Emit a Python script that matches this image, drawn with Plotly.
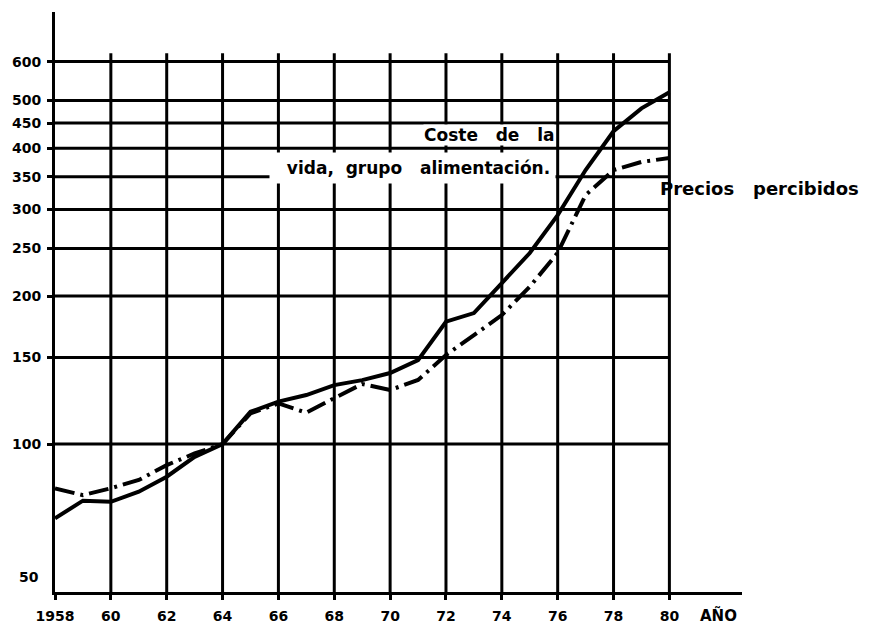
import numpy as np
import plotly.graph_objects as go

years = list(range(1958, 1981))
coste = [70.6, 76.7, 76.3, 80.0, 85.8, 94.2, 100, 116.3, 122, 125.8, 131.8, 134.9,
         139.5, 148.2, 177.4, 184.7, 212.6, 244.7, 292.3, 361, 433, 482, 520]
precios = [81.2, 78.7, 81.3, 84.5, 90.6, 95.7, 100, 115.5, 121, 115.8, 124, 132.5,
           128.8, 135, 151.7, 166.6, 183, 209, 245, 321, 361, 375, 382]

x_ticks = list(range(1958, 1981, 2))
x_tick_labels = ["1958", "60", "62", "64", "66", "68", "70", "72", "74", "76", "78", "80"]
y_ticks = [100, 150, 200, 250, 300, 350, 400, 450, 500, 600]
y_grid = [50] + y_ticks

FONT = "DejaVu Sans"
BLACK = "#000000"
NB = "\u00a0"

fig = go.Figure()
fig.add_trace(go.Scatter(x=years, y=coste, mode="lines",
                         line=dict(color=BLACK, width=4), name="Coste de la vida, grupo alimentación"))
fig.add_trace(go.Scatter(x=years, y=precios, mode="lines",
                         line=dict(color=BLACK, width=4, dash="20px,6px,3px,6px"), name="Precios percibidos"))

shapes = []
for v in y_grid[1:]:
    shapes.append(dict(type="line", xref="x", yref="y", x0=1957.82, x1=1980, y0=v, y1=v,
                       line=dict(color=BLACK, width=3), layer="below"))
for yr in x_ticks[1:]:
    shapes.append(dict(type="line", xref="x", yref="y", x0=yr, x1=yr, y0=50, y1=624,
                       line=dict(color=BLACK, width=3), layer="below"))

label_font = dict(family=FONT, size=17, color=BLACK, weight="bold")
annotations = [
    dict(text=f"Coste{NB*3}de{NB*3}la", x=1973.54, y=np.log10(425), xref="x", yref="y",
         xanchor="center", showarrow=False, font=label_font, bgcolor="white", borderpad=0),
    dict(text=f"{NB*2}vida,{NB*2}grupo{NB*3}alimentación.", x=1970.8, y=np.log10(364), xref="x", yref="y",
         xanchor="center", showarrow=False, font=label_font, bgcolor="white", borderpad=5),
    dict(text=f"Precios{NB*3}percibidos", x=(759 - 55) / 687, y=np.log10(331), xref="paper", yref="y",
         xanchor="center", showarrow=False, font=dict(family=FONT, size=18, color=BLACK, weight="bold")),
    dict(text="<b>AÑO</b>", x=1981.75, y=0, xref="x", yref="paper", yanchor="top", yshift=-12,
         xanchor="center", showarrow=False, font=dict(family=FONT, size=15, color=BLACK)),
    dict(text="<b>50</b>", x=0, y=np.log10(50), xref="paper", yref="y", xanchor="right",
         xshift=-14, yshift=15, showarrow=False, font=dict(family=FONT, size=14, color=BLACK)),
]

# page body has an 8px margin, so the figure is sized to fit the 870x625 window
fig.update_layout(
    width=862, height=617,
    margin=dict(l=47, r=128, t=4, b=33, autoexpand=False),
    paper_bgcolor="white", plot_bgcolor="white",
    showlegend=False,
    shapes=shapes,
    annotations=annotations,
    xaxis=dict(range=[1958, 1982.6], tickvals=x_ticks, ticktext=x_tick_labels, automargin=False,
               showgrid=False, zeroline=False, showline=True, linecolor=BLACK, linewidth=3,
               ticks="outside", ticklen=5, tickwidth=3, tickcolor=BLACK,
               tickfont=dict(family=FONT, size=14, color=BLACK, weight="bold"),
               ticklabelstandoff=4),
    yaxis=dict(type="log", range=[np.log10(50), np.log10(757)], tickvals=y_ticks,
               ticktext=[str(v) for v in y_ticks], automargin=False,
               showgrid=False, zeroline=False, showline=True, linecolor=BLACK, linewidth=3,
               ticks="outside", ticklen=5, tickwidth=3, tickcolor=BLACK,
               tickfont=dict(family=FONT, size=14, color=BLACK, weight="bold"),
               ticklabelstandoff=3),
)

fig.write_html("out.html")
